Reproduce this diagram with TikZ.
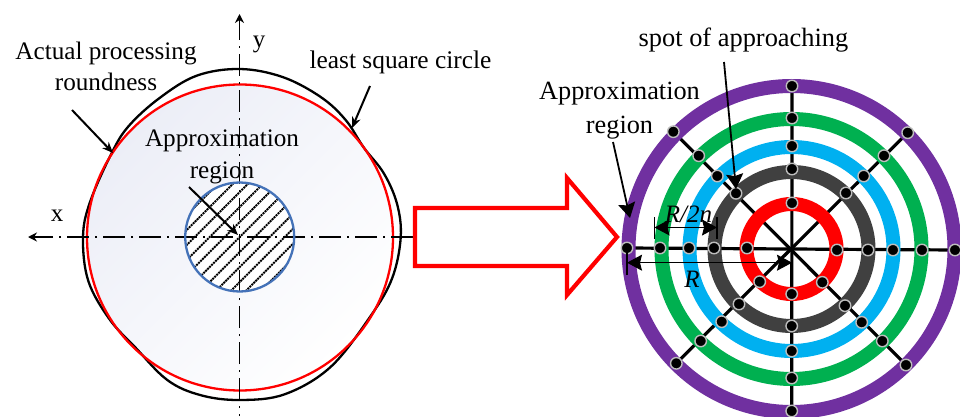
\documentclass[tikz,border=0pt]{standalone}
\usepackage{fontspec}
\setmainfont{Liberation Serif}
\usetikzlibrary{arrows.meta,calc}
\definecolor{rpurple}{HTML}{7030A0}
\definecolor{rgreen}{HTML}{00B050}
\definecolor{rblue}{HTML}{00B0F0}
\definecolor{rdark}{HTML}{404040}
\definecolor{hatchblue}{HTML}{4472B8}
\definecolor{palefill}{HTML}{ECEEF7}
\definecolor{spotring}{HTML}{BDBDBD}
\newcommand{\fs}[1]{\fontsize{#1}{#1}\selectfont}
\newcommand{\bp}[2]{($(lc)+(#1:153pt+#2pt)$)}
\tikzset{
 lbl/.style={inner sep=0pt,align=center},
 axisline/.style={line width=1.8pt,dash pattern=on 22pt off 6pt on 2pt off 6pt,-{Stealth[length=9pt,width=9pt]}},
 pointer/.style={line width=2pt,-{Stealth[length=11pt,width=9pt]}},
 bigpointer/.style={line width=1.8pt,-{Stealth[length=15pt,width=17pt,inset=2pt]}},
 dimline/.style={line width=1pt,{Stealth[length=15pt,width=16pt,inset=2pt]}-{Stealth[length=15pt,width=16pt,inset=2pt]}},
 tick/.style={line width=1.8pt},
 ringline/.style={line width=14pt},
 spoke/.style={line width=3.2pt},
 spot/.style={circle,fill=black,draw=spotring,line width=1.4pt,minimum size=11.5pt,inner sep=0pt},
}
\begin{document}
\begin{tikzpicture}[x=1pt,y=-1pt]
\useasboundingbox (0,0) rectangle (960,417);
% left figure
\coordinate (lc) at (240,237.5);
\shade[top color=palefill,middle color=white,bottom color=white,shading angle=45] (lc) circle (153pt);
\draw[line width=2.3pt,black] plot[smooth cycle,tension=.6] coordinates {
 \bp{0}{7.7} \bp{12}{7.6} \bp{24}{4.5} \bp{36}{0} \bp{48}{5} \bp{60}{9} \bp{75}{13} \bp{90}{15.5} \bp{105}{14.5} \bp{120}{8} \bp{135}{4.5} \bp{147}{.5} \bp{167}{1.2} \bp{180}{4} \bp{196}{4.8} \bp{212}{1} \bp{226}{-1.3} \bp{243}{7} \bp{256}{9.5} \bp{270}{9.5} \bp{286}{10} \bp{305}{5} \bp{329}{-.6} \bp{345}{4.5} };
\draw[line width=2.3pt,red] (lc) circle (153pt);
\coordinate (yend) at (239.5,416);
\coordinate (ytip) at (239.5,14);
\coordinate (xend) at (413,237);
\coordinate (xtip) at (28,237);
% approximation disc
\fill[white] (239.7,237) circle (54.5pt);
\begin{scope}
\clip (239.7,237) circle (54.5pt);
\foreach \k in {-6,...,6}
  \draw[line width=2pt,dash pattern=on 2pt off .8pt] ($(239.7,237)+(\k*15-70,70)$) -- ($(239.7,237)+(\k*15+70,-70)$);
\end{scope}
\draw[axisline,dash phase=20pt] (yend) -- (ytip);
\draw[axisline] (xend) -- (xtip);
\draw[line width=2.3pt,hatchblue] (239.7,237) circle (54.5pt);
% labels left
\node[lbl,font=\fs{25.2}] (actual) at (106,66) {Actual processing\\[6pt]roundness};
\node[lbl,font=\fs{25.4}] (lsq) at (400.5,62) {least square circle};
\node[lbl,font=\fs{25.2}] (appl) at (222,157) {Approximation\\[7pt]region};
\node[lbl,font=\fs{25}] (ylab) at (259,44) {y};
\node[lbl,font=\fs{25}] (xlab) at (57,216) {x};
\coordinate (a1s) at (72,110); \coordinate (a1e) at (113,153);
\coordinate (a2s) at (370,86); \coordinate (a2e) at (352,128);
\coordinate (a3s) at (189,187); \coordinate (a3e) at (238,235);
\draw[pointer] (a1s) -- (a1e);
\draw[pointer] (a2s) -- (a2e);
\draw[pointer] (a3s) -- (a3e);
% block arrow
\draw[red,line width=4.2pt,miter limit=10,fill=white] (415,208) -- (567,208) -- (567,178) -- (617,237) -- (567,295) -- (567,266) -- (415,266) -- cycle;
% right figure
\coordinate (rc) at (791.5,249);
\foreach \n/\x/\y in {
 t1/792/203,t2/792/169,t3/792/146,t4/792/118,t5/792/86,
 b1/791.7/294,b2/791.7/326,b3/791.7/351,b4/791.7/378,b5/791.7/411,
 l1/747/248,l2/714/248,l3/689/248,l4/660/248,l5/627/248,
 r1/837/250,r2/868/250,r3/893/250,r4/922/250,r5/955/250,
 ul2/736/193.3,ul3/717.3/176,ul4/698.7/155.7,ul5/673.3/131.7,
 ur2/846/193,ur3/863.7/176,ur4/884/155.7,ur5/907.7/132.7,
 ll1/759.7/281.7,ll2/739/304,ll3/721.7/321.7,ll4/700.7/341,ll5/676.3/363.3,
 lr1/822.3/282.3,lr2/845/305.7,lr3/861.7/322.3,lr4/882.3/341,lr5/906/365}
  \coordinate (c\n) at (\x,\y);
\draw[spoke] (cl5) -- (cr5);
\draw[spoke] (ct5) -- (cb5);
\draw[spoke] (cul5) -- (clr5);
\draw[spoke] (cur5) -- (cll5);
\draw[ringline,rpurple] (rc) circle (163pt);
\draw[ringline,rgreen] (rc) circle (130pt);
\draw[ringline,rblue] (rc) circle (102pt);
\draw[ringline,rdark] (rc) circle (77pt);
\draw[ringline,red] (rc) circle (45pt);
\foreach \n in {t1,t2,t3,t4,t5,b1,b2,b3,b4,b5,l1,l2,l3,l4,l5,r1,r2,r3,r4,r5,ul2,ul3,ul4,ul5,ur2,ur3,ur4,ur5,ll1,ll2,ll3,ll4,ll5,lr1,lr2,lr3,lr4,lr5}
  \node[spot] (\n) at (c\n) {};
% dimensions
\coordinate (d1t) at (654.5,217); \coordinate (d1b) at (654.5,239);
\coordinate (d2t) at (717,217); \coordinate (d2b) at (717,239);
\coordinate (d1) at (654.5,227.5); \coordinate (d2) at (717,227.5);
\draw[tick] (d1t) -- (d1b);
\draw[tick] (d2t) -- (d2b);
\draw[dimline] (d1) -- (d2);
\coordinate (e1t) at (627,248); \coordinate (e1b) at (627,275);
\coordinate (e1) at (627,262.7); \coordinate (e2) at (792,262.7);
\draw[tick] (e1t) -- (e1b);
\draw[dimline] (e1) -- (e2);
\node[lbl,font=\fs{25}\itshape] (rn) at (688.5,214) {R/2n};
\node[lbl,font=\fs{25}\itshape] (rr) at (692,279) {R};
% labels right
\node[lbl,font=\fs{26.4}] (spotl) at (743.5,40) {spot of approaching};
\node[lbl,font=\fs{26.3}] (appr) at (619.5,110.5) {Approximation\\[7pt]region};
\coordinate (a4s) at (613,142); \coordinate (a4e) at (630,218);
\coordinate (a5s) at (724,62); \coordinate (a5e) at (736,189);
\draw[bigpointer] (a4s) -- (a4e);
\draw[bigpointer] (a5s) -- (a5e);
\end{tikzpicture}
\end{document}
